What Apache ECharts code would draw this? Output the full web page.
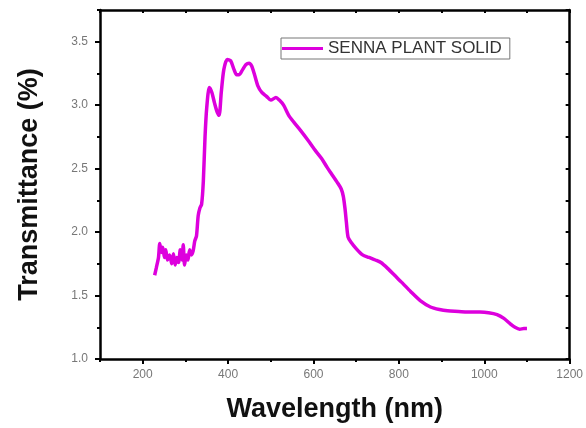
<!DOCTYPE html>
<html>
<head>
<meta charset="utf-8">
<script src="https://cdn.jsdelivr.net/npm/echarts@6/dist/echarts.min.js"></script>
<style>html,body{margin:0;padding:0;background:#fff}#c{width:586px;height:428px}</style>
</head>
<body>
<div id="c"></div>
<script>
const seriesName = 'SENNA PLANT SOLID';
const wavelength = [228,232,237,240,244,247,251,254,258,263,268,272,276,280,284,288,292,295,298,302,306,310,314,318,322,326,330,334,338,342,346,350,356,362,368,374,379,384,390,398,406,414,420,426,434,442,449,455,462,470,479,490,500,512,520,530,542,553,570,588,605,619,632,642,656,665,670,674,677,681,688,700,715,730,745,758,775,790,808,828,850,874,895,914,940,960,990,1010,1030,1046,1060,1072,1083,1093,1100];
const transmittance = [1.66,1.72,1.80,1.91,1.84,1.88,1.80,1.86,1.78,1.82,1.75,1.83,1.74,1.80,1.76,1.86,1.78,1.90,1.74,1.82,1.78,1.86,1.82,1.85,1.93,1.97,2.13,2.19,2.22,2.40,2.75,2.98,3.14,3.10,3.02,2.95,2.92,3.10,3.28,3.36,3.35,3.28,3.24,3.24,3.28,3.32,3.33,3.31,3.24,3.15,3.10,3.07,3.04,3.06,3.04,3.00,2.92,2.87,2.80,2.72,2.64,2.58,2.51,2.46,2.39,2.34,2.28,2.18,2.08,1.96,1.92,1.87,1.82,1.80,1.78,1.76,1.71,1.66,1.60,1.53,1.46,1.41,1.39,1.38,1.375,1.37,1.37,1.365,1.35,1.32,1.28,1.25,1.235,1.24,1.24];
const xMajorTicks = [200,400,600,800,1000,1200];
const xMinorTicks = [100,300,500,700,900,1100];
const yMajorTicks = [1.0,1.5,2.0,2.5,3.0,3.5];
const yMinorTicks = [1.25,1.75,2.25,2.75,3.25,3.75];
const xTitle = 'Wavelength (nm)';
const yTitle = 'Transmittance (%)';

const font = 'Liberation Sans, Arial, sans-serif';
const data = wavelength.map((w, i) => [w, transmittance[i]]);
const lineC = '#000';
const chart = echarts.init(document.getElementById('c'));
chart.setOption({
  animation: false,
  backgroundColor: '#fff',
  grid: {left: 100, right: 14, top: 10, bottom: 67},
  legend: {
    data: [seriesName], left: 281, top: 38,
    itemWidth: 41, itemHeight: 3, itemGap: 0,
    padding: [2, 8, 2, 1],
    borderColor: '#777', borderWidth: 1,
    textStyle: {fontFamily: font, fontSize: 17, color: '#333'},
    icon: 'rect'
  },
  xAxis: [
    {type: 'value', position: 'bottom', min: 100, max: 1200, interval: 100,
     splitLine: {show: false},
     axisLine: {lineStyle: {color: lineC, width: 2.5}},
     axisTick: {customValues: xMajorTicks, length: 5, lineStyle: {color: lineC, width: 2}},
     axisLabel: {customValues: xMajorTicks, formatter: v => String(v), fontFamily: font, fontSize: 12, color: '#777', margin: 10},
     name: xTitle, nameLocation: 'middle', nameGap: 37,
     nameTextStyle: {fontFamily: font, fontSize: 27, fontWeight: 'bold', color: '#111'}},
    {type: 'value', position: 'bottom', min: 100, max: 1200, interval: 100,
     splitLine: {show: false}, axisLine: {show: false},
     axisTick: {customValues: xMinorTicks, length: 3, lineStyle: {color: lineC, width: 2}},
     axisLabel: {show: false}},
    {type: 'value', position: 'top', min: 100, max: 1200, interval: 100,
     splitLine: {show: false},
     axisLine: {lineStyle: {color: lineC, width: 2.5}},
     axisTick: {inside: true, length: 3, lineStyle: {color: lineC, width: 2}},
     axisLabel: {show: false}}
  ],
  yAxis: [
    {type: 'value', position: 'left', min: 1, max: 3.75, interval: 0.25,
     splitLine: {show: false},
     axisLine: {lineStyle: {color: lineC, width: 2.5}},
     axisTick: {customValues: yMajorTicks, length: 5, lineStyle: {color: lineC, width: 2}},
     axisLabel: {customValues: yMajorTicks, formatter: v => v.toFixed(1), fontFamily: font, fontSize: 12, color: '#777', margin: 12},
     name: yTitle, nameLocation: 'middle', nameGap: 57,
     nameTextStyle: {fontFamily: font, fontSize: 27, fontWeight: 'bold', color: '#111'}},
    {type: 'value', position: 'left', min: 1, max: 3.75, interval: 0.25,
     splitLine: {show: false}, axisLine: {show: false},
     axisTick: {customValues: yMinorTicks, length: 3, lineStyle: {color: lineC, width: 2}},
     axisLabel: {show: false}},
    {type: 'value', position: 'right', min: 1, max: 3.75, interval: 0.25,
     splitLine: {show: false},
     axisLine: {lineStyle: {color: lineC, width: 2.5}},
     axisTick: {inside: true, length: 4, lineStyle: {color: lineC, width: 2}},
     axisLabel: {show: false}}
  ],
  series: [{
    name: seriesName, type: 'line', data: data, showSymbol: false, smooth: 0.25,
    xAxisIndex: 0, yAxisIndex: 0,
    lineStyle: {color: '#dd00dd', width: 3.5},
    itemStyle: {color: '#dd00dd'}
  }]
});
</script>
</body>
</html>
